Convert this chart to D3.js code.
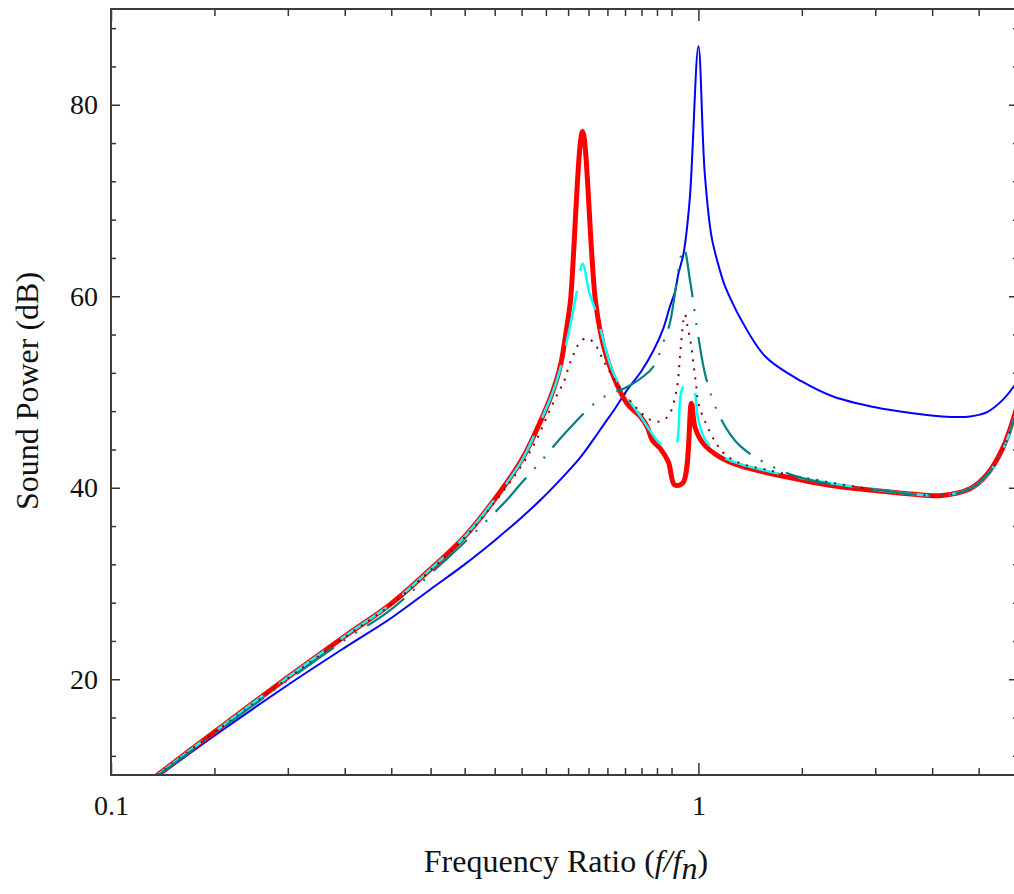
<!DOCTYPE html>
<html>
<head>
<meta charset="utf-8">
<script src="https://cdn.jsdelivr.net/npm/d3@7"></script>
<style>
  body { margin: 0; background: #fff; }
  svg { display: block; font-family: "Liberation Serif", "Times New Roman", serif; }
  .tick-label text { font-family: "Liberation Serif", "Times New Roman", serif; font-size: 28px; fill: #111; }
  .axis-title { font-size: 32px; fill: #111; }
  .tick line { stroke: #333; stroke-width: 1.5; }
</style>
</head>
<body>
<div id="chart"></div>
<script>
// values (frequency ratio f/fn, sound power dB)
const freqBlue = [0.12, 0.15, 0.2, 0.25, 0.3, 0.35, 0.4, 0.45, 0.5, 0.54, 0.581, 0.628, 0.662, 0.69, 0.72, 0.756, 0.8, 0.838, 0.871, 0.8935, 0.9136, 0.924, 0.943, 0.9665, 1.0, 1.025, 1.053, 1.088, 1.106, 1.145, 1.176, 1.3, 1.5, 1.7, 2.0, 2.3, 2.6, 2.9, 3.1, 3.3, 3.5];
const dbBlue   = [9.8, 14.1, 19.4, 23.3, 26.4, 29.4, 32.0, 34.5, 36.9, 38.8, 40.8, 43.1, 45.0, 46.6, 48.2, 50.2, 52.2, 54.3, 56.6, 58.85, 60.6, 62.3, 64.4, 70.1, 86.1, 72.9, 66.2, 62.7, 61.3, 59.2, 57.8, 53.7, 51.1, 49.5, 48.4, 47.8, 47.45, 47.45, 47.9, 49.2, 51.2];

const freqRed = [0.12, 0.15, 0.2, 0.25, 0.3, 0.35, 0.4, 0.45, 0.5, 0.53, 0.566, 0.583, 0.598, 0.6056, 0.635, 0.668, 0.69, 0.718, 0.756, 0.7975, 0.819, 0.834, 0.861, 0.889, 0.911, 0.941, 0.973, 0.987, 1.02, 1.088, 1.176, 1.3, 1.5, 1.7, 2.0, 2.3, 2.6, 2.9, 3.1, 3.3, 3.5];
const dbRed   = [10.0, 14.5, 20.2, 24.5, 27.9, 31.5, 34.9, 38.8, 42.9, 46.0, 50.2, 52.9, 57.1, 59.5, 77.2, 59.5, 54.7, 51.5, 48.8, 47.4, 46.3, 45.0, 44.1, 42.7, 40.3, 40.5, 48.8, 46.3, 44.6, 43.2, 42.3, 41.6, 40.8, 40.2, 39.7, 39.35, 39.2, 39.9, 41.4, 44.2, 48.8];

const freqCyan = [0.12, 0.15, 0.2, 0.25, 0.3, 0.35, 0.4, 0.45, 0.5, 0.53, 0.566, 0.584, 0.611, 0.62, 0.635, 0.652, 0.668, 0.71, 0.7375, 0.798, 0.861, 0.89, 0.9136, 0.938, 0.962, 0.981, 1.0, 1.03, 1.088, 1.176, 1.3, 1.5, 2.0, 2.6, 2.9, 3.1, 3.3, 3.5];
const dbCyan   = [10.0, 14.5, 20.2, 24.5, 27.9, 31.5, 34.9, 38.8, 42.8, 46.0, 50.1, 52.8, 58.2, 60.3, 63.4, 60.4, 58.5, 52.6, 50.5, 47.4, 44.6, 44.2, 44.3, 50.3, 51.0, 50.5, 47.0, 44.9, 43.4, 42.5, 41.8, 41.0, 39.8, 39.2, 39.9, 41.3, 44.0, 48.5];

const freqBrown = [0.12, 0.15, 0.2, 0.25, 0.3, 0.35, 0.4, 0.45, 0.5, 0.53, 0.5585, 0.578, 0.5895, 0.605, 0.616, 0.628, 0.6446, 0.6653, 0.6795, 0.693, 0.725, 0.76, 0.794, 0.822, 0.855, 0.889, 0.9136, 0.924, 0.93, 0.9365, 0.943, 0.949, 0.958, 0.971, 0.981, 0.992, 1.0, 1.03, 1.068, 1.1, 1.146, 1.2, 1.3, 1.5, 2.0, 2.6, 2.9, 3.1, 3.3, 3.5];
const dbBrown   = [10.0, 14.45, 20.1, 24.4, 27.8, 31.4, 34.8, 38.5, 42.3, 45.0, 48.1, 50.0, 51.0, 53.1, 54.2, 55.2, 55.6, 55.1, 54.05, 53.0, 51.0, 49.3, 48.0, 47.2, 46.9, 47.5, 49.6, 51.5, 53.6, 55.7, 57.5, 58.1, 56.9, 55.0, 52.9, 50.5, 48.8, 46.7, 44.8, 43.7, 42.9, 42.4, 41.9, 41.1, 39.8, 39.2, 39.9, 41.3, 44.0, 48.5];

const freqTeal = [0.12, 0.15, 0.2, 0.25, 0.3, 0.3628, 0.4, 0.4714, 0.498, 0.5385, 0.5907, 0.6818, 0.766, 0.837, 0.8714, 0.8935, 0.944, 0.968, 0.995, 1.03, 1.088, 1.176, 1.38, 1.55, 2.0, 2.6, 2.9, 3.1, 3.3, 3.5];
const dbTeal   = [9.9, 14.3, 19.9, 24.1, 27.3, 31.9, 34.3, 38.7, 40.4, 42.7, 45.6, 49.3, 50.7, 52.6, 55.2, 57.1, 65.0, 61.6, 56.6, 51.5, 47.4, 44.4, 41.8, 40.8, 39.8, 39.2, 39.9, 41.3, 44.0, 48.5];

const xMajorTicks = [0.1, 1];
const xMinorTicks = [0.15, 0.2, 0.25, 0.3, 0.35, 0.4, 0.45, 0.5, 0.55, 0.6, 0.65, 0.7, 0.75, 0.8, 0.85, 0.9, 1.5, 2, 2.5, 3];
const yMajorTicks = [20, 40, 60, 80];
const yMinorTicks = [12, 16, 24, 28, 32, 36, 44, 48, 52, 56, 64, 68, 72, 76, 84, 88];

class SoundPowerChart {

    constructor(_config, _series) {
      this.config = {
        parentElement: _config.parentElement,
        containerWidth: _config.containerWidth || 1014,
        containerHeight: _config.containerHeight || 894,
        // right edge sits a few pixels past the window, like the reference
        margin: _config.margin || {top: 9, right: -4, bottom: 119, left: 111}
      }
      this.series = _series;
      this.initVis();
    }

    initVis() {
      let vis = this;

      vis.width = vis.config.containerWidth - vis.config.margin.left - vis.config.margin.right;
      vis.height = vis.config.containerHeight - vis.config.margin.top - vis.config.margin.bottom;

      vis.svg = d3.select(vis.config.parentElement).append('svg')
          .attr('width', vis.config.containerWidth)
          .attr('height', vis.config.containerHeight);

      vis.chart = vis.svg.append('g')
          .attr('transform', `translate(${vis.config.margin.left},${vis.config.margin.top})`);

      vis.xScale = d3.scaleLog()
          .domain([0.1, 3.5])
          .range([0, vis.width]);

      vis.yScale = d3.scaleLinear()
          .domain([10, 90])
          .range([vis.height, 0]);

      vis.svg.append('defs').append('clipPath')
          .attr('id', 'plot-clip')
        .append('rect')
          .attr('width', vis.width)
          .attr('height', vis.height);

      vis.renderVis();
    }

    renderVis() {
      let vis = this;

      const line = d3.line()
          .curve(d3.curveCatmullRom.alpha(0.5))
          .x(d => vis.xScale(d[0]))
          .y(d => vis.yScale(d[1]));

      // curves
      vis.chart.append('g')
          .attr('clip-path', 'url(#plot-clip)')
        .selectAll('.curve')
          .data(vis.series)
        .join('path')
          .attr('class', 'curve')
          .attr('fill', 'none')
          .attr('stroke', d => d.color)
          .attr('stroke-width', d => d.width)
          .attr('stroke-dasharray', d => d.dash)
          .attr('stroke-linejoin', 'round')
          .attr('stroke-linecap', d => d.cap)
          .attr('d', d => line(d.f.map((f, i) => [f, d.db[i]])));

      // ticks on all four sides, pointing inward
      const addAxis = (axis, transform, cls) => {
        const g = vis.chart.append('g')
            .attr('class', cls)
            .attr('transform', transform)
            .call(axis);
        g.attr('font-family', null).attr('font-size', null);
        g.select('.domain').remove();
        return g;
      };

      addAxis(d3.axisBottom(vis.xScale).tickValues(xMajorTicks).tickSize(-12).tickPadding(20)
          .tickFormat(d3.format('')), `translate(0,${vis.height})`, 'tick-label');
      addAxis(d3.axisBottom(vis.xScale).tickValues(xMinorTicks).tickSize(-7).tickFormat(''),
          `translate(0,${vis.height})`, 'minor');
      addAxis(d3.axisTop(vis.xScale).tickValues(xMajorTicks).tickSize(-12).tickFormat(''),
          'translate(0,0)', 'minor');
      addAxis(d3.axisTop(vis.xScale).tickValues(xMinorTicks).tickSize(-7).tickFormat(''),
          'translate(0,0)', 'minor');

      addAxis(d3.axisLeft(vis.yScale).tickValues(yMajorTicks).tickSize(-9).tickPadding(13),
          'translate(0,0)', 'tick-label');
      addAxis(d3.axisLeft(vis.yScale).tickValues(yMinorTicks).tickSize(-5).tickFormat(''),
          'translate(0,0)', 'minor');
      addAxis(d3.axisRight(vis.yScale).tickValues(yMajorTicks).tickSize(-9).tickFormat(''),
          `translate(${vis.width},0)`, 'minor');
      addAxis(d3.axisRight(vis.yScale).tickValues(yMinorTicks).tickSize(-5).tickFormat(''),
          `translate(${vis.width},0)`, 'minor');

      // frame
      vis.chart.append('rect')
          .attr('width', vis.width)
          .attr('height', vis.height)
          .attr('fill', 'none')
          .attr('stroke', '#3c3c3c')
          .attr('stroke-width', 2);

      // axis titles
      const xTitle = vis.svg.append('text')
          .attr('class', 'axis-title')
          .attr('text-anchor', 'middle')
          .attr('x', 566)
          .attr('y', 872);
      xTitle.append('tspan').text('Frequency Ratio (');
      xTitle.append('tspan').attr('font-style', 'italic').text('f/f');
      xTitle.append('tspan').attr('font-style', 'italic').attr('dy', 7).text('n');
      xTitle.append('tspan').attr('dy', -7).text(')');

      vis.svg.append('text')
          .attr('class', 'axis-title')
          .attr('text-anchor', 'middle')
          .attr('transform', 'translate(38,391) rotate(-90)')
          .text('Sound Power (dB)');
    }
  }

const series = [
  {f: freqBlue,  db: dbBlue,  color: '#0000ff', width: 2,   dash: null, cap: 'butt'},
  {f: freqRed,   db: dbRed,   color: '#ff0000', width: 5,   dash: null, cap: 'round'},
  {f: freqCyan,  db: dbCyan,  color: '#00ffff', width: 2.5, dash: '56,20', cap: 'butt'},
  {f: freqBrown, db: dbBrown, color: '#800000', width: 2,   dash: '2,7', cap: 'butt'},
  {f: freqTeal,  db: dbTeal,  color: '#008080', width: 2.2, dash: '46,12,2,12,2,12', cap: 'butt'}
];

new SoundPowerChart({parentElement: '#chart'}, series);
</script>
</body>
</html>
